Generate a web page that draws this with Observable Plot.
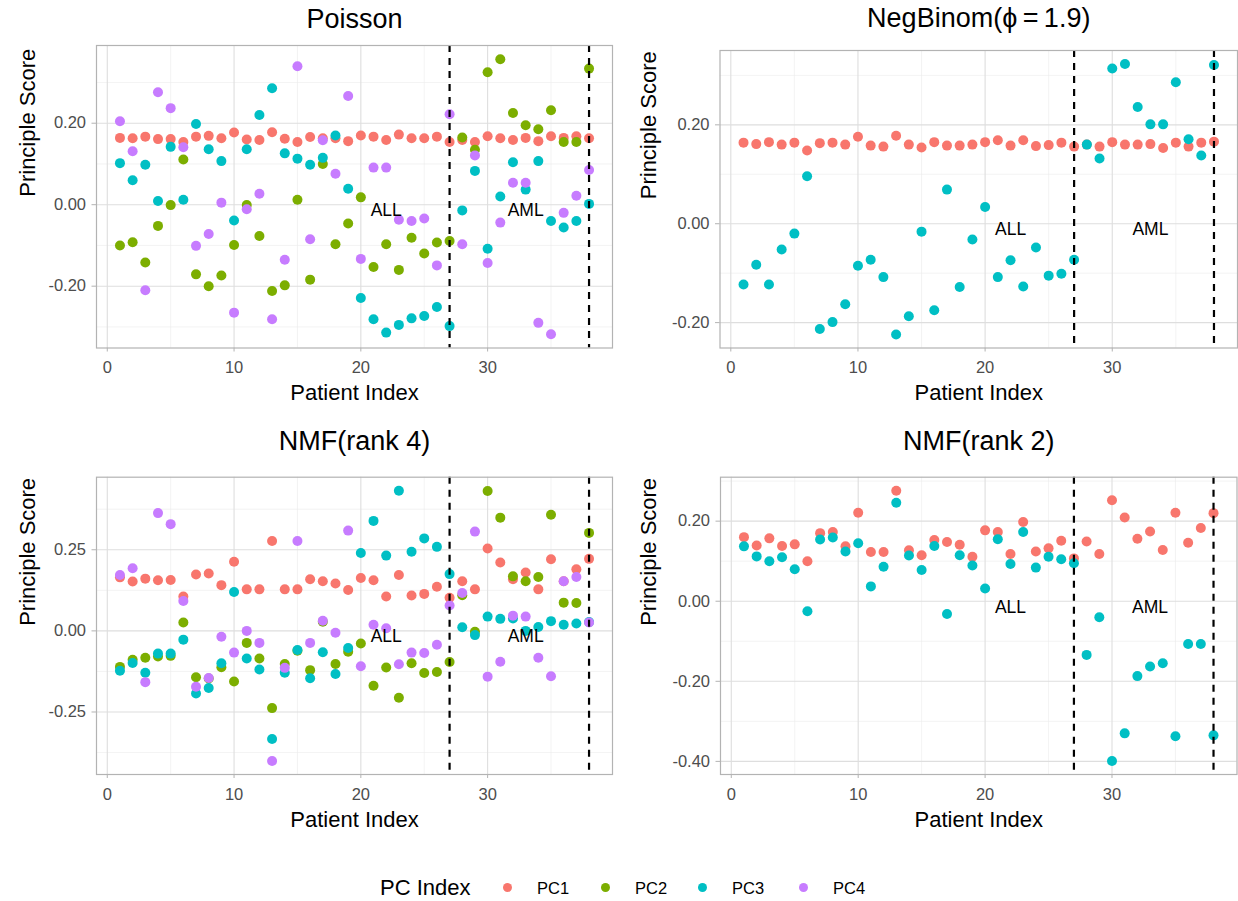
<!DOCTYPE html>
<html>
<head>
<meta charset="utf-8">
<script src="https://cdn.jsdelivr.net/npm/d3@7"></script>
<script src="https://cdn.jsdelivr.net/npm/@observablehq/plot@0.6"></script>
<style>
  body { margin: 0; background: #fff; font-family: "Liberation Sans", Arial, Helvetica, sans-serif; }
  #fig { position: relative; width: 1238px; height: 901px; overflow: hidden; }
  .panel { position: absolute; }
  .legend-title { position: absolute; font-size: 22px; color: #000; line-height: 1; }
  .legend-dot { position: absolute; width: 9px; height: 9px; border-radius: 50%; }
  .legend-label { position: absolute; font-size: 16.5px; color: #000; line-height: 1; }
</style>
</head>
<body>
<div id="fig"></div>
<script>
// ---- data -------------------------------------------------------------
const patients = [1,2,3,4,5,6,7,8,9,10,11,12,13,14,15,16,17,18,19,20,21,22,23,24,25,26,27,28,29,30,31,32,33,34,35,36,37,38];
const pcNames = ["PC1", "PC2", "PC3", "PC4"];
const pcColors = ["#F8766D", "#7CAE00", "#00BFC4", "#C77CFF"];

// Poisson PCA scores
const poissonPC1 = [0.164,0.163,0.167,0.161,0.161,0.154,0.167,0.169,0.163,0.177,0.160,0.159,0.178,0.162,0.154,0.166,0.163,0.163,0.156,0.170,0.167,0.159,0.172,0.163,0.163,0.167,0.154,0.159,0.154,0.168,0.163,0.159,0.164,0.156,0.168,0.164,0.168,0.163];
const poissonPC2 = [-0.100,-0.092,-0.142,-0.052,-0.001,0.111,-0.171,-0.200,-0.174,-0.099,-0.001,-0.077,-0.212,-0.198,0.012,-0.184,0.100,-0.097,-0.046,0.018,-0.153,-0.097,-0.160,-0.081,-0.120,-0.093,-0.089,0.165,0.135,0.325,0.357,0.225,0.195,0.185,0.232,0.154,0.154,0.334];
const poissonPC3 = [0.102,0.060,0.098,0.009,0.142,0.012,0.198,0.136,0.107,-0.039,0.136,0.220,0.286,0.126,0.113,0.098,0.115,0.170,0.039,-0.229,-0.281,-0.314,-0.295,-0.279,-0.273,-0.251,-0.298,-0.014,0.083,-0.108,0.020,0.104,0.037,0.107,-0.040,-0.056,-0.040,0.002];
const poissonPC4 = [0.205,0.131,-0.210,0.276,0.237,0.141,-0.101,-0.072,0.005,-0.265,-0.011,0.027,-0.281,-0.135,0.340,-0.085,0.158,0.076,0.267,-0.133,0.091,0.091,-0.037,-0.040,-0.034,-0.149,0.222,-0.097,0.121,-0.143,-0.044,0.054,0.054,-0.290,-0.318,-0.020,0.022,0.085];

// Negative binomial PCA scores (phi = 1.9)
const negbinomPC1 = [0.164,0.161,0.165,0.160,0.164,0.148,0.163,0.164,0.160,0.176,0.158,0.156,0.178,0.160,0.154,0.165,0.158,0.158,0.160,0.165,0.169,0.158,0.169,0.157,0.159,0.164,0.156,0.160,0.156,0.165,0.160,0.160,0.161,0.153,0.164,0.156,0.164,0.166];
const negbinomPC3 = [-0.123,-0.083,-0.123,-0.052,-0.020,0.096,-0.213,-0.199,-0.163,-0.085,-0.073,-0.108,-0.224,-0.187,-0.016,-0.175,0.069,-0.128,-0.032,0.034,-0.108,-0.074,-0.127,-0.048,-0.105,-0.101,-0.073,0.160,0.132,0.314,0.323,0.236,0.201,0.201,0.286,0.171,0.138,0.321];

// NMF rank 4 scores
const nmf4PC1 = [0.165,0.152,0.161,0.156,0.157,0.106,0.174,0.177,0.141,0.213,0.128,0.128,0.277,0.128,0.128,0.159,0.153,0.146,0.126,0.163,0.156,0.106,0.172,0.109,0.114,0.136,0.102,0.153,0.128,0.254,0.211,0.159,0.180,0.128,0.221,0.153,0.190,0.222];
const nmf4PC2 = [-0.111,-0.089,-0.083,-0.079,-0.077,0.026,-0.143,-0.147,-0.112,-0.156,-0.037,-0.085,-0.238,-0.102,-0.061,-0.121,0.028,-0.102,-0.064,-0.039,-0.169,-0.113,-0.206,-0.100,-0.130,-0.127,-0.096,0.110,-0.003,0.431,0.349,0.168,0.153,0.166,0.358,0.087,0.086,0.302];
const nmf4PC3 = [-0.123,-0.099,-0.129,-0.070,-0.070,-0.027,-0.193,-0.176,-0.100,0.120,-0.085,-0.119,-0.333,-0.129,-0.059,-0.146,-0.066,-0.133,-0.053,0.240,0.339,0.232,0.432,0.244,0.285,0.259,0.175,0.011,-0.013,0.044,0.037,0.038,0.000,0.012,0.030,0.019,0.023,0.027];
const nmf4PC4 = [0.172,0.193,-0.158,0.363,0.329,0.092,-0.172,-0.145,-0.018,-0.067,0.000,-0.037,-0.401,-0.114,0.277,-0.037,0.031,-0.006,0.309,-0.109,0.019,0.008,-0.103,-0.067,-0.068,-0.043,0.078,0.117,0.306,-0.141,-0.095,0.047,0.044,-0.083,-0.140,0.153,0.166,0.026];

// NMF rank 2 scores
const nmf2PC1 = [0.160,0.139,0.157,0.138,0.142,0.100,0.170,0.173,0.137,0.221,0.123,0.123,0.276,0.127,0.115,0.153,0.148,0.141,0.111,0.177,0.173,0.118,0.198,0.124,0.132,0.151,0.107,0.149,0.118,0.252,0.209,0.156,0.174,0.128,0.221,0.146,0.183,0.220];
const nmf2PC3 = [0.137,0.112,0.100,0.110,0.080,-0.025,0.154,0.159,0.124,0.145,0.037,0.086,0.246,0.114,0.078,0.138,-0.032,0.115,0.089,0.032,0.155,0.093,0.173,0.084,0.111,0.105,0.095,-0.134,-0.040,-0.399,-0.330,-0.187,-0.163,-0.155,-0.337,-0.107,-0.107,-0.335];

// Axis ticks and group annotations
const xTicks = [0, 10, 20, 30];
const xMinorTicks = [5, 15, 25, 35];
const poissonYTicks = [-0.2, 0, 0.2];
const poissonYMinor = [-0.3, -0.1, 0.1, 0.3];
const negbinomYTicks = [-0.2, 0, 0.2];
const negbinomYMinor = [-0.3, -0.1, 0.1, 0.3];
const nmf4YTicks = [-0.25, 0, 0.25];
const nmf4YMinor = [-0.375, -0.125, 0.125, 0.375];
const nmf2YTicks = [-0.4, -0.2, 0, 0.2];
const nmf2YMinor = [-0.3, -0.1, 0.1, 0.3];
const groupBoundaries = [27, 38];
const groupLabels = ["ALL", "AML"];
const groupLabelX = [22, 33];
const groupLabelY = [0, 0];

// ---- panels -----------------------------------------------------------
const panelSpecs = [
  { title: "Poisson", series: { PC1: poissonPC1, PC2: poissonPC2, PC3: poissonPC3, PC4: poissonPC4 },
    yTicks: poissonYTicks, yMinor: poissonYMinor,
    layout: { left: 0, top: 0, width: 619, height: 425, plotL: 96, plotR: 612, plotT: 45, plotB: 347.5, titleY: 19, yLabelX: 27 } },
  { title: "NegBinom(\u03D5\u2009=\u20091.9)", series: { PC1: negbinomPC1, PC3: negbinomPC3 },
    yTicks: negbinomYTicks, yMinor: negbinomYMinor,
    layout: { left: 619, top: 0, width: 619, height: 425, plotL: 719.5, plotR: 1237, plotT: 50, plotB: 347.5, titleY: 18, yLabelX: 648 } },
  { title: "NMF(rank 4)", series: { PC1: nmf4PC1, PC2: nmf4PC2, PC3: nmf4PC3, PC4: nmf4PC4 },
    yTicks: nmf4YTicks, yMinor: nmf4YMinor,
    layout: { left: 0, top: 425, width: 619, height: 430, plotL: 96, plotR: 612, plotT: 476.7, plotB: 774, titleY: 441, yLabelX: 27 } },
  { title: "NMF(rank 2)", series: { PC1: nmf2PC1, PC3: nmf2PC3 },
    yTicks: nmf2YTicks, yMinor: nmf2YMinor,
    layout: { left: 619, top: 425, width: 619, height: 430, plotL: 720, plotR: 1236.5, plotT: 476.7, plotB: 774, titleY: 441, yLabelX: 648 } }
];

const fig = document.getElementById("fig");
const xExtent = d3.extent(patients);
const xPad = (xExtent[1] - xExtent[0]) * 0.05;
const xDomain = [xExtent[0] - xPad, xExtent[1] + xPad];
const FONT = "'Liberation Sans', Arial, Helvetica, sans-serif";

for (const spec of panelSpecs) {
  const L = spec.layout;
  // long-format rows, PC1 first so later components are drawn on top
  const rows = [];
  for (const pc of pcNames) {
    const vals = spec.series[pc];
    if (!vals) continue;
    patients.forEach((p, i) => rows.push({ patient: p, score: vals[i], pc }));
  }
  const yExt = d3.extent(rows, d => d.score);
  const yPad = (yExt[1] - yExt[0]) * 0.05;
  const yDomain = [yExt[0] - yPad, yExt[1] + yPad];
  const inY = v => v >= yDomain[0] && v <= yDomain[1];
  const labels = groupLabels.map((t, i) => ({ t, x: groupLabelX[i], y: groupLabelY[i] }));

  const marginLeft = L.plotL - L.left;
  const marginRight = L.left + L.width - L.plotR;
  const marginTop = L.plotT - L.top;
  const marginBottom = L.top + L.height - L.plotB;

  const chart = Plot.plot({
    width: L.width,
    height: L.height,
    marginLeft, marginRight, marginTop, marginBottom,
    style: { fontFamily: FONT, fontSize: "16.5px", color: "#4D4D4D", background: "transparent", overflow: "visible" },
    x: { domain: xDomain, label: null },
    y: { domain: yDomain, label: null },
    color: { domain: pcNames, range: pcColors },
    marks: [
      // minor grid
      Plot.ruleX(xMinorTicks, { stroke: "#EBEBEB", strokeWidth: 0.6 }),
      Plot.ruleY(spec.yMinor.filter(inY), { stroke: "#EBEBEB", strokeWidth: 0.6 }),
      // major grid
      Plot.ruleX(xTicks, { stroke: "#DEDEDE", strokeWidth: 1.1 }),
      Plot.ruleY(spec.yTicks, { stroke: "#DEDEDE", strokeWidth: 1.1 }),
      // scores
      Plot.dot(rows, { x: "patient", y: "score", fill: "pc", r: 5 }),
      // group boundaries and labels
      Plot.ruleX(groupBoundaries, { stroke: "#000", strokeWidth: 2.2, strokeDasharray: "7,6" }),
      Plot.text(labels, { x: "x", y: "y", text: "t", fill: "#000", fontSize: 17.5, dy: 6 }),
      Plot.frame({ stroke: "#B3B3B3", strokeWidth: 1.2 }),
      // axes
      Plot.axisX(xTicks, { tickSize: 4, tickPadding: 9.5, stroke: "#B3B3B3", fill: "#4D4D4D", fontSize: 16.5, tickFormat: d => String(d), label: null }),
      Plot.axisY(spec.yTicks, { tickSize: 4.5, tickPadding: 6, stroke: "#B3B3B3", fill: "#4D4D4D", fontSize: 16.5, tickFormat: d => d.toFixed(2), label: null }),
      // titles
      Plot.text([spec.title], { frameAnchor: "top", dy: L.titleY - L.plotT, fontSize: 27, fill: "#000", lineAnchor: "middle" }),
      Plot.text(["Patient Index"], { frameAnchor: "bottom", dy: 45, fontSize: 22, fill: "#000", lineAnchor: "middle" }),
      Plot.text(["Principle Score"], { frameAnchor: "left", dx: L.yLabelX - L.plotL, rotate: -90, fontSize: 22, fill: "#000", lineAnchor: "middle" })
    ]
  });
  chart.classList.add("panel");
  chart.style.left = L.left + "px";
  chart.style.top = L.top + "px";
  fig.appendChild(chart);
}

// ---- legend -----------------------------------------------------------
const legendTitle = document.createElement("div");
legendTitle.className = "legend-title";
legendTitle.textContent = "PC Index";
legendTitle.style.left = "380px";
legendTitle.style.top = "877px";
fig.appendChild(legendTitle);
const dotX = [507, 605, 702, 803];
pcNames.forEach((pc, i) => {
  const dot = document.createElement("div");
  dot.className = "legend-dot";
  dot.style.background = pcColors[i];
  dot.style.left = (dotX[i] - 4.5) + "px";
  dot.style.top = (887.5 - 4.5) + "px";
  fig.appendChild(dot);
  const lab = document.createElement("div");
  lab.className = "legend-label";
  lab.textContent = pc;
  lab.style.left = (dotX[i] + 30) + "px";
  lab.style.top = "880px";
  fig.appendChild(lab);
});
</script>
</body>
</html>
